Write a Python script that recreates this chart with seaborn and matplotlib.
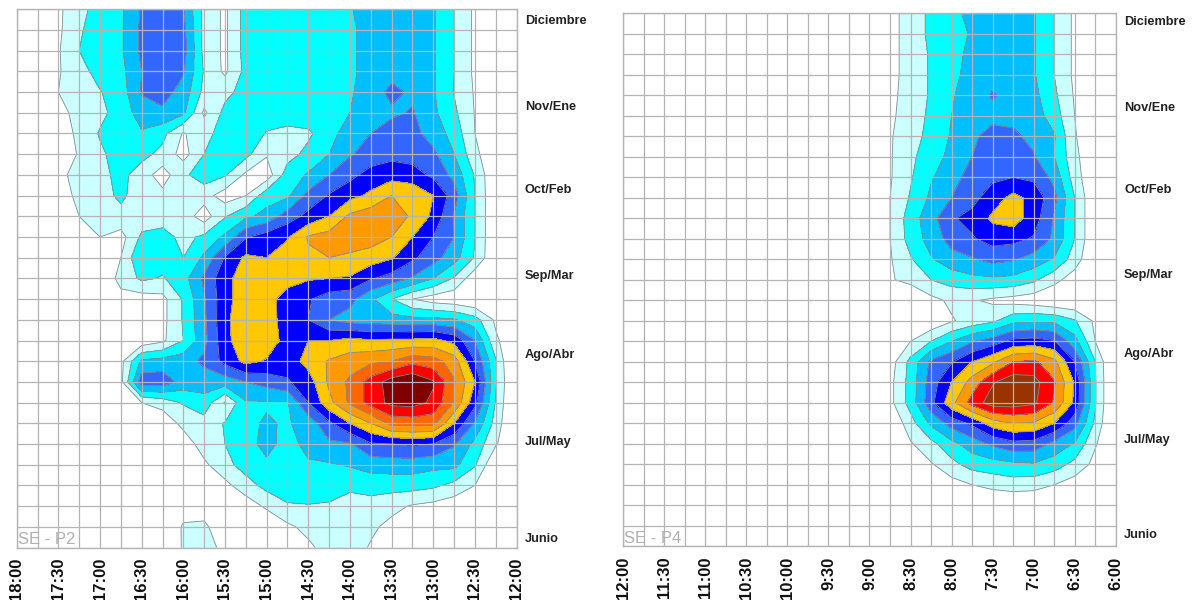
import numpy as np
import seaborn as sns
import matplotlib
matplotlib.use('Agg')
import matplotlib.pyplot as plt

sns.set_theme(style='white')
plt.rcParams['font.family'] = ['Liberation Sans', 'DejaVu Sans']

# half hour ticks, right to left in the sun's path
times_p2 = ['18:00', '17:30', '17:00', '16:30', '16:00', '15:30', '15:00',
            '14:30', '14:00', '13:30', '13:00', '12:30', '12:00']
times_p4 = ['12:00', '11:30', '11:00', '10:30', '10:00', '9:30', '9:00',
            '8:30', '8:00', '7:30', '7:00', '6:30', '6:00']
months = ['Diciembre', 'Nov/Ene', 'Oct/Feb', 'Sep/Mar', 'Ago/Abr', 'Jul/May', 'Junio']
month_rows_p2 = [0.47, 4.67, 8.68, 12.8, 16.65, 20.85, 25.5]
month_rows_p4 = [0.33, 4.57, 8.57, 12.7, 16.57, 20.75, 25.4]

# one row per grid line from top to bottom
p2 = [
    [0, 0, .8, 1.7, 2.4, 2.85, 4.1, 4.5, 4.05, 1.7, .8, 2.4, 2.6, 2.7, 2.75, 2.8, 2.95, 3.3, 3.6, 3.6, 3.1, 2.0, .8, 0, 0],
    [0, 0, .8, 1.9, 2.4, 2.85, 4.2, 4.6, 4.3, 1.7, .8, 2.4, 2.6, 2.7, 2.75, 2.8, 2.9, 3.2, 3.6, 3.6, 3.1, 2.0, .8, 0, 0],
    [0, 0, .9, 2.0, 2.5, 2.85, 4.2, 4.7, 4.4, 1.7, .8, 2.4, 2.6, 2.7, 2.75, 2.8, 2.9, 3.2, 3.6, 3.6, 3.1, 2.0, .8, 0, 0],
    [0, 0, .9, 1.7, 2.3, 2.7, 4.0, 4.6, 4.1, 1.9, .8, 2.3, 2.6, 2.7, 2.75, 2.8, 2.9, 3.2, 3.6, 3.7, 3.1, 2.0, .8, 0, 0],
    [0, 0, 1.0, 1.6, 1.95, 2.5, 4.1, 4.4, 3.6, 1.7, 1.7, 2.4, 2.6, 2.7, 2.75, 2.8, 2.9, 3.4, 4.3, 3.8, 3.1, 1.95, .9, 0, 0],
    [0, 0, .6, 1.4, 1.7, 2.5, 3.4, 3.8, 3.2, .8, 2.3, 2.6, 2.7, 2.7, 2.7, 2.8, 3.0, 3.4, 3.8, 4.1, 3.2, 2.2, .95, 0, 0],
    [0, 0, .5, 1.2, 2.1, 2.6, 2.9, 2.3, .9, 1.7, 2.4, 2.8, 1.9, 1.6, 1.8, 2.7, 3.4, 4.0, 4.5, 4.3, 3.6, 2.6, 1.0, 0, 0],
    [0, 0, .3, 1.1, 1.8, 2.5, 2.3, 1.7, .6, 2.0, 2.6, 2.3, 1.1, 1.6, 2.3, 3.0, 3.9, 4.4, 4.7, 4.6, 4.2, 3.0, 1.3, 0, 0],
    [0, 0, .7, 1.4, 1.7, 2.3, 1.5, .5, 1.8, 2.5, 2.1, .8, .4, 2.5, 3.1, 4.0, 4.7, 5.4, 5.6, 5.4, 4.8, 3.7, 1.9, 0, 0],
    [0, 0, .4, 1.3, 1.6, 2.2, 1.5, 1.3, 1.8, 1.4, .5, 1.0, 2.6, 2.8, 4.3, 5.1, 5.7, 6.2, 7.0, 6.8, 6.0, 4.5, 2.0, 0, 0],
    [0, 0, 0, 1.0, 1.95, 1.7, 1.4, 1.5, 1.5, .5, 1.9, 2.8, 3.3, 4.5, 5.3, 6.0, 7.2, 7.6, 7.7, 6.8, 5.8, 3.9, 2.0, 0, 0],
    [0, 0, 0, 0, 1.0, .6, 2.2, 2.4, 1.7, 2.2, 3.2, 4.9, 5.5, 5.9, 7.1, 7.4, 7.6, 7.5, 7.0, 6.0, 5.0, 4.0, 2.0, 0, 0],
    [0, 0, 0, 0, 0, 1.0, 3.0, 2.5, 2.0, 3.2, 5.1, 6.2, 6.0, 6.5, 6.8, 7.0, 6.8, 6.5, 6.1, 5.2, 4.4, 3.4, 1.9, 0, 0],
    [0, 0, 0, 0, .2, 1.3, 2.2, 1.9, 2.6, 4.2, 5.7, 6.5, 6.4, 6.5, 6.1, 6.0, 5.9, 5.1, 4.6, 3.9, 3.0, 1.9, .3, 0, 0],
    [0, 0, 0, 0, 0, .7, .5, .7, 2.1, 3.9, 5.7, 6.5, 6.5, 5.4, 5.1, 4.5, 4.3, 3.2, 2.0, 1.0, .5, .3, 0, 0, 0],
    [0, 0, 0, 0, 0, 0, 0, .7, 2.1, 3.8, 5.8, 6.6, 6.5, 5.5, 5.0, 4.0, 3.6, 3.5, 3.4, 3.3, 3.3, 3.1, 2.4, .8, 0],
    [0, 0, 0, 0, 0, 0, .3, .8, 2.0, 3.7, 5.7, 6.7, 6.6, 5.6, 6.0, 6.0, 6.3, 6.1, 6.2, 6.2, 6.3, 5.7, 4.0, 1.2, 0],
    [0, 0, 0, 0, 0, .7, 3.2, 3.4, 3.6, 4.2, 5.3, 6.3, 5.9, 5.4, 6.4, 7.1, 7.5, 7.8, 8.0, 8.7, 8.4, 7.5, 5.0, 2.1, -.8],
    [0, 0, 0, 0, 0, .7, 4.6, 4.6, 3.6, 3.5, 3.5, 4.0, 4.4, 4.9, 5.5, 7.2, 8.2, 9.4, 10.5, 10.9, 10.1, 8.1, 6.0, 2.1, -.5],
    [0, 0, 0, 0, 0, 0, 1.0, 1.4, 2.1, 2.6, .9, 2.9, 2.9, 2.9, 5.0, 6.7, 8.2, 9.4, 10.3, 10.4, 9.8, 7.9, 5.3, 1.9, -.5],
    [0, 0, 0, 0, 0, 0, 0, .3, 1.3, 1.6, 2.05, 2.8, 3.1, 2.9, 3.4, 4.8, 6.0, 7.0, 8.3, 8.4, 8.3, 6.0, 3.9, 1.6, -.5],
    [0, 0, 0, 0, 0, 0, 0, 0, .4, 1.5, 2.0, 2.4, 3.5, 2.4, 3.5, 3.8, 3.9, 4.9, 5.0, 5.1, 5.0, 4.1, 2.7, 1.1, 0],
    [0, 0, 0, 0, 0, 0, 0, 0, 0, .8, 1.7, 2.4, 2.7, 2.8, 2.8, 2.9, 3.1, 3.4, 3.5, 3.5, 3.3, 3.3, 2.1, 0, 0],
    [0, 0, 0, 0, 0, 0, 0, 0, 0, 0, .7, 1.6, 2.3, 2.5, 2.5, 2.4, 2.2, 2.4, 2.4, 2.4, 2.2, 1.7, 1.0, 0, 0],
    [0, 0, 0, 0, 0, 0, 0, 0, .6, .5, 0, .4, 1.2, 1.9, 1.95, 1.9, 1.6, 1.6, 1.3, .9, .7, .4, 0, 0, 0],
    [0, 0, 0, 0, 0, 0, 0, .2, 1.1, 1.2, .3, 0, 0, .8, 1.3, 1.5, 1.5, 1.2, .7, .3, 0, 0, 0, 0, 0],
    [0, 0, 0, 0, 0, 0, 0, .1, 1.1, 1.3, .8, 0, 0, 0, .8, 1.4, 1.5, .9, .3, 0, 0, 0, 0, 0, 0],
]

# P4 is empty until 8:30 from the left, so only the last 13 columns are kept
p4_right = [
    [0, .6, 1.5, 2.2, 2.7, 3.3, 3.6, 3.5, 3.1, 2.0, .8, 0, 0],
    [0, .6, 1.5, 2.2, 2.6, 3.1, 3.6, 3.5, 3.1, 2.0, .8, 0, 0],
    [0, .6, 1.5, 2.1, 2.6, 3.3, 3.6, 3.6, 3.1, 2.0, .8, 0, 0],
    [0, .6, 1.5, 2.1, 2.7, 3.4, 3.6, 3.6, 3.1, 2.0, .8, 0, 0],
    [0, .7, 1.5, 2.1, 2.9, 3.5, 4.1, 3.6, 3.3, 2.2, .9, 0, 0],
    [0, .8, 1.5, 2.2, 3.0, 3.5, 3.7, 3.7, 3.5, 2.5, 1.0, 0, 0],
    [0, .9, 1.6, 2.3, 3.1, 3.8, 4.4, 4.2, 3.7, 3.1, 1.1, 0, 0],
    [0, .9, 1.8, 2.5, 3.3, 4.0, 4.5, 4.6, 4.1, 3.0, 1.3, 0, 0],
    [0, .9, 1.9, 2.9, 3.6, 4.4, 4.8, 5.0, 4.8, 3.7, 1.5, 0, 0],
    [0, 1.0, 2.1, 3.2, 4.0, 4.7, 5.5, 6.3, 5.7, 4.3, 2.0, 0, 0],
    [0, 1.0, 2.5, 3.6, 4.9, 5.3, 6.2, 6.5, 5.5, 3.9, 2.0, 0, 0],
    [0, 1.0, 2.4, 3.4, 4.4, 4.9, 5.4, 5.3, 4.9, 3.8, 2.0, 0, 0],
    [0, .9, 1.9, 2.9, 3.6, 3.9, 4.3, 4.1, 3.6, 2.9, 1.5, 0, 0],
    [0, .9, 1.3, 2.0, 2.4, 2.7, 2.8, 2.7, 2.2, 1.3, .5, 0, 0],
    [0, 0, 0, .7, 1.2, 1.1, .8, .6, .4, .1, 0, 0, 0],
    [0, 0, 0, .2, .9, 1.4, 1.8, 2.7, 2.9, 2.8, 2.1, .8, 0],
    [0, 0, 1.0, 2.0, 3.0, 3.9, 4.5, 5.3, 5.4, 5.1, 3.4, 1.0, 0],
    [0, .5, 2.3, 4.2, 4.9, 6.0, 6.8, 8.0, 8.2, 7.3, 5.0, 2.0, -.5],
    [0, .7, 2.4, 4.5, 6.0, 7.4, 8.9, 9.6, 9.4, 8.1, 5.9, 2.1, -.5],
    [0, .7, 2.4, 4.7, 6.7, 8.4, 9.5, 9.5, 9.2, 7.9, 5.8, 2.1, -.5],
    [0, 0, 1.6, 3.2, 4.4, 5.2, 6.5, 7.0, 6.9, 6.0, 4.4, 1.8, -.5],
    [0, 0, .9, 1.7, 2.7, 3.5, 4.2, 4.7, 4.6, 3.7, 2.9, 1.1, 0],
    [0, 0, 0, .9, 1.7, 2.4, 2.6, 2.8, 2.9, 2.5, 1.7, .7, 0],
    [0, 0, 0, 0, .6, 1.0, 1.3, 1.5, 1.4, 1.0, .5, 0, 0],
    [0, 0, 0, 0, 0, 0, 0, 0, 0, 0, 0, 0, 0],
    [0, 0, 0, 0, 0, 0, 0, 0, 0, 0, 0, 0, 0],
    [0, 0, 0, 0, 0, 0, 0, 0, 0, 0, 0, 0, 0],
]

cool = ['#ffffff', '#ccffff', '#00ffff', '#00bfff', '#3366ff', '#0000ff', '#ffc800', '#ff9900']
colors_p2 = sns.color_palette(cool + ['#ff6600', '#ff0000', '#800000'])
colors_p4 = sns.color_palette(cool + ['#ff0000', '#993300'])
levels_p2 = [-2, 1, 2, 3, 4, 5, 6, 7, 8, 9, 10, 13]
levels_p4 = [-2, 1, 2, 3, 4, 5, 6, 7, 8, 9, 13]


def draw(ax, values, levels, colors, times, month_rows, tag):
    values = np.array(values)
    x = np.arange(values.shape[1])
    y = np.arange(values.shape[0])
    ax.contourf(x, y, values, levels=levels, colors=colors)
    ax.contour(x, y, values, levels=levels[1:-1], colors='#8a8a8a', linewidths=0.6)

    ax.set_xlim(0, 24)
    ax.set_ylim(26, 0)
    ax.set_xticks(x)
    ax.set_xticklabels([times[i // 2] if i % 2 == 0 else '' for i in x],
                       rotation=90, fontsize=12, fontweight='bold', color='#111111')
    ax.set_yticks(y, minor=True)
    ax.set_yticks(month_rows)
    ax.set_yticklabels(months, fontsize=9.2, fontweight='bold', color='#222222')
    ax.yaxis.tick_right()
    ax.tick_params(axis='both', which='both', length=0)
    ax.tick_params(axis='x', pad=7.5)
    ax.tick_params(axis='y', which='major', pad=6)
    ax.grid(True, axis='x', which='major', color='#b4b4b4', lw=0.9)
    ax.grid(True, axis='y', which='minor', color='#b4b4b4', lw=0.9)
    ax.grid(False, axis='y', which='major')
    ax.set_axisbelow(False)
    for s in ax.spines.values():
        s.set_color('#b4b4b4')
        s.set_linewidth(1.0)
    ax.text(0.05, 25.98, tag, fontsize=12, color='#b0b0b0', va='bottom', ha='left')


W, H = 1196, 600
fig = plt.figure(figsize=(W / 100, H / 100), dpi=100)
ax_p2 = fig.add_axes([16.7 / W, 1 - 547.5 / H, 499.9 / W, 538.2 / H])
ax_p4 = fig.add_axes([623.3 / W, 1 - 546.3 / H, 492.4 / W, 533.0 / H])

p4 = np.hstack([np.zeros((27, 12)), np.array(p4_right)])

draw(ax_p2, p2, levels_p2, colors_p2, times_p2, month_rows_p2, 'SE - P2')
draw(ax_p4, p4, levels_p4, colors_p4, times_p4, month_rows_p4, 'SE - P4')

fig.savefig('out.png', dpi=100)
